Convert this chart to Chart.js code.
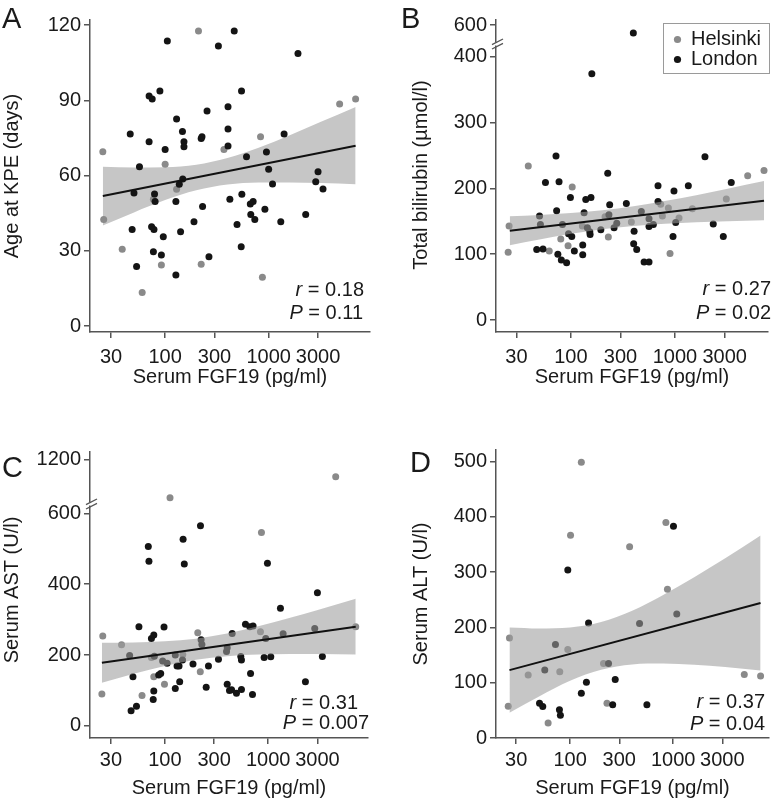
<!DOCTYPE html>
<html>
<head>
<meta charset="utf-8">
<script src="https://cdn.jsdelivr.net/npm/chart.js@4.4.1/dist/chart.umd.min.js"></script>
<style>
  html, body { margin: 0; padding: 0; background: #fff; }
  #wrap { position: relative; width: 777px; height: 800px; }
  canvas { position: absolute; }
</style>
</head>
<body>
<div id="wrap">
  <canvas id="panelA" width="388" height="400" style="left:0;top:0"></canvas>
  <canvas id="panelB" width="389" height="400" style="left:388px;top:0"></canvas>
  <canvas id="panelC" width="388" height="400" style="left:0;top:400px"></canvas>
  <canvas id="panelD" width="389" height="400" style="left:388px;top:400px"></canvas>
</div>
<script>
// ---- shared ----
const xTicks = [30, 100, 300, 1000, 3000];
const xTitle = 'Serum FGF19 (pg/ml)';
const legendLabels = ['Helsinki', 'London'];

// ---- A: age at KPE ----
const aHelX = [25, 25.5, 38.5, 60, 77, 92, 100, 129, 210, 223, 370, 835, 870, 4850, 6920];
const aHelY = [69.5, 42.5, 30.6, 13.4, 50.5, 24.3, 64.5, 54.5, 117.6, 24.6, 70.4, 75.5, 19.4, 88.5, 90.5];
const aLonX = [46, 50, 48, 53, 56.5, 70, 75, 70, 74, 78, 79, 80, 77, 89, 92, 96, 100, 105, 129, 127,
  127, 137, 141, 147, 152, 152, 148, 190, 223, 227, 230, 254, 265, 327, 405, 405, 405, 422, 465, 495,
  547, 551, 543, 611, 665, 708, 672, 735, 920, 952, 1000, 1090, 1310, 1410, 1920, 2280, 2850, 3000, 3350];
const aLonY = [76.5, 53, 38.5, 23.7, 63.5, 91.7, 90.5, 73.5, 39.6, 38.5, 52.6, 49.6, 29.6, 93.7, 28.3, 35.6, 70.4, 113.6, 82.5, 49.6,
  20.3, 56.5, 37.6, 77.5, 73.5, 71.5, 58.6, 41.6, 74.8, 75.5, 47.6, 85.7, 27.6, 111.6, 71.8, 87.4, 78.5, 50.5, 117.6, 40.5,
  93.7, 52.5, 31.6, 67.5, 48.6, 49.6, 44.5, 42.5, 46.5, 69.4, 62.5, 56.6, 41.6, 76.5, 108.6, 44.5, 57.5, 61.5, 54.6];
const aFitX = [25, 6920];
const aFitY = [51.8, 71.9];
const aBandX = [25, 50, 100, 200, 400, 800, 1600, 3200, 6920];
const aBandHi = [63.5, 63.2, 63.3, 64.3, 67.0, 71.1, 76.1, 81.4, 87.3];
const aBandLo = [40.1, 45.3, 50.2, 54.1, 56.4, 57.2, 57.2, 57.0, 56.5];
const aYTicks = [0, 30, 60, 90, 120];
const aStats = [['r', ' = 0.18'], ['P', ' = 0.11']];

// ---- B: total bilirubin ----
const bHelX = [25.5, 25, 39, 62, 80, 94, 103, 129, 213, 229, 381, 729, 757, 864, 896, 1093, 1468, 3110, 4990, 7160];
const bHelY = [143, 103, 234, 105, 123, 113, 202, 143, 157, 126, 149, 176, 158, 170, 101, 155, 169, 184, 219, 227];
const bLonX = [47, 54, 50, 51, 57, 72, 73, 77, 83, 75, 81, 91, 99, 95, 102, 108, 130, 130, 134, 139,
  156, 159, 144, 152, 153, 194, 226, 236, 232, 260, 276, 341, 405, 401, 429, 398, 505, 563, 475, 563,
  563, 620, 687, 687, 978, 957, 1016, 1343, 1940, 2330, 2910, 3470];
const bLonY = [107, 108, 158, 145, 209, 249, 166, 210, 145, 100, 91, 87, 186, 131, 127, 105, 99, 114, 163, 183,
  186, 374, 140, 134, 130, 137, 223, 175, 160, 140, 147, 177, 135, 116, 107, 588, 88, 88, 165, 154,
  142, 145, 204, 180, 196, 127, 148, 204, 248, 146, 127, 209];
const bFitX = [25.9, 7160];
const bFitY = [135.7, 181.3];
const bBandX = [25.9, 50, 100, 200, 400, 800, 1600, 3200, 7160];
const bBandHi = [157.7, 159.5, 162.4, 166.7, 172.9, 180.8, 189.7, 199.5, 211.1];
const bBandLo = [113.7, 122.5, 130.9, 137.8, 142.9, 146.3, 148.5, 150.1, 151.4];
const bYTicks = [0, 100, 200, 300, 400];
const bYTicksTop = [600];
const bStats = [['r', ' = 0.27'], ['P', ' = 0.02']];

// ---- C: serum AST ----
const cHelX = [25, 24.5, 38, 60, 78, 74, 99, 112, 149, 208, 220, 842, 861, 4510, 7050];
const cHelY = [254, 90, 229, 86, 139, 193, 118, 770, 202, 263, 153, 266, 546, 1005, 280];
const cLonX = [45.5, 49, 47, 53, 56, 69, 70, 74, 78, 79, 78, 77, 87, 91, 98, 95, 105, 126, 126, 131,
  137, 139, 148, 150, 154, 187, 221, 224, 228, 251, 264, 330, 395, 401, 401, 422, 442, 448, 493, 543,
  551, 551, 603, 664, 675, 705, 714, 914, 948, 984, 1060, 1315, 1396, 2296, 2826, 3000, 3350];
const cLonY = [199, 139, 43, 56, 280, 506, 465, 247, 257, 197, 99, 75, 144, 148, 279, 183, 177, 200, 106, 169,
  169, 125, 186, 527, 457, 175, 565, 243, 230, 109, 169, 188, 210, 221, 118, 100, 102, 261, 92, 196,
  186, 103, 287, 280, 148, 89, 282, 193, 247, 459, 195, 332, 260, 125, 275, 376, 196];
const cFitX = [24.5, 7050];
const cFitY = [178.7, 280];
const cBandX = [24.5, 50, 100, 200, 400, 800, 1600, 3200, 7050];
const cBandHi = [235.1, 235.7, 238.7, 246.4, 260.9, 281.1, 304.5, 329.4, 358.8];
const cBandLo = [122.3, 147.3, 169.3, 186.6, 196.9, 201.5, 203, 202.9, 201.7];
const cYTicks = [0, 200, 400, 600];
const cYTicksTop = [1200];
const cStats = [['r', ' = 0.31'], ['P', ' = 0.007']];

// ---- D: serum ALT ----
const dHelX = [25.1, 25.8, 39.2, 61.2, 79.4, 95, 101, 128.5, 211, 228, 378, 850, 880, 4900, 7050];
const dHelY = [57.5, 181, 114, 27, 120, 160, 367, 499, 135, 63, 346, 390, 269, 115, 112];
const dLonX = [50.5, 54.3, 56.8, 72.1, 78.8, 80.5, 95, 128.5, 144, 151, 236, 259, 274, 472, 556, 1007, 1084];
const dLonY = [63, 57, 123, 169, 51, 41, 304, 81, 101, 208, 135, 60, 106, 207, 60, 383, 224.5];
const dFitX = [25.8, 7050];
const dFitY = [122.8, 244.3];
const dBandX = [25.8, 50, 100, 200, 400, 800, 1600, 3200, 7050];
const dBandHi = [200, 198.2, 200, 209.8, 230.2, 258.9, 291.1, 325.3, 366.5];
const dBandLo = [45.5, 75.1, 103.6, 123.6, 133.2, 134.7, 132.5, 128.3, 122.2];
const dYTicks = [0, 100, 200, 300, 400, 500];
const dStats = [['r', ' = 0.37'], ['P', ' = 0.04']];

// ---- styling ----
const FONT = '"Liberation Sans", Arial, Helvetica, sans-serif';
const TEXT = '#1a1a1a';
const AXIS = '#555';
const GRAY_PT = '#8a8a8a';
const BLACK_PT = '#141414';
const BAND = 'rgba(156,156,156,0.58)';

Chart.defaults.font.family = FONT;
Chart.defaults.font.size = 20;
Chart.defaults.color = TEXT;

function xy(xs, ys) {
  return xs.map((x, i) => ({ x: x, y: ys[i] }));
}

const axisGrid = { drawOnChartArea: false, drawTicks: true, tickLength: 6, color: AXIS, lineWidth: 1.5 };
const axisBorder = { display: true, color: AXIS, width: 1.5 };

function xScale(c) {
  return {
    type: 'logarithmic', position: 'bottom', min: c.min, max: c.max,
    afterBuildTicks: s => { s.ticks = xTicks.map(v => ({ value: v })); },
    afterFit: s => { s.height = c.height; },
    ticks: { callback: v => String(v), padding: c.tickPad, autoSkip: false, maxRotation: 0, color: TEXT },
    grid: axisGrid,
    border: axisBorder,
    title: { display: true, text: xTitle, color: TEXT, padding: { top: 0, bottom: c.titlePad } }
  };
}

function yScale(c) {
  return {
    type: 'linear', position: 'left', min: c.min, max: c.max,
    stack: c.stack, stackWeight: c.stackWeight, weight: c.weight || 0,
    afterBuildTicks: s => { s.ticks = c.ticks.map(v => ({ value: v })); },
    afterFit: s => { s.width = c.width; },
    ticks: { callback: v => String(v), padding: 3, color: TEXT },
    grid: axisGrid,
    border: axisBorder,
    title: c.title ? { display: true, text: c.title, color: TEXT, padding: { top: c.titlePad, bottom: 0 } } : { display: false }
  };
}

// letters, r/P text, split-axis marks, legend, titles spanning a split axis
function decorPlugin(d) {
  return {
    id: 'decor',
    afterDraw(chart) {
      const ctx = chart.ctx;
      ctx.save();
      ctx.fillStyle = TEXT;
      ctx.textAlign = 'left';
      ctx.textBaseline = 'alphabetic';
      ctx.font = '29px ' + FONT;
      ctx.fillText(d.letter, d.letterPos[0], d.letterPos[1]);

      ctx.textBaseline = 'middle';
      d.stats.forEach((s, i) => {
        const x = d.statPos[i][0], y = d.statPos[i][1];
        ctx.font = '20px ' + FONT;
        ctx.textAlign = 'right';
        ctx.fillText(s[1], x, y);
        const w = ctx.measureText(s[1]).width;
        ctx.font = 'italic 20px ' + FONT;
        ctx.fillText(s[0], x - w, y);
      });

      if (d.yTitle) {
        ctx.save();
        ctx.translate(d.yTitlePos[0], d.yTitlePos[1]);
        ctx.rotate(-Math.PI / 2);
        ctx.textAlign = 'center';
        ctx.font = '20px ' + FONT;
        ctx.fillText(d.yTitle, 0, 0);
        ctx.restore();
      }

      if (d.splitAxis) {
        const bx = chart.chartArea.left;
        const by = chart.scales.y.top;
        ctx.fillStyle = '#fff';
        ctx.fillRect(bx - 3, by - 1.5, 6, 3);
        ctx.strokeStyle = AXIS;
        ctx.lineWidth = 1.3;
        [-2.2, 2.2].forEach(dy => {
          ctx.beginPath();
          ctx.moveTo(bx - 4, by + dy + 2.8);
          ctx.lineTo(bx + 7, by + dy - 2.8);
          ctx.stroke();
        });
      }

      if (d.legend) {
        ctx.strokeStyle = '#9a9a9a';
        ctx.lineWidth = 1;
        ctx.strokeRect(275.5, 23.5, 106, 50);
        const cols = [GRAY_PT, BLACK_PT];
        legendLabels.forEach((lab, i) => {
          const y = 39.5 + i * 20;
          ctx.fillStyle = cols[i];
          ctx.beginPath();
          ctx.arc(289.5, y, 3.6, 0, Math.PI * 2);
          ctx.fill();
          ctx.fillStyle = TEXT;
          ctx.textAlign = 'left';
          ctx.font = '20px ' + FONT;
          ctx.fillText(lab, 303, y);
        });
      }
      ctx.restore();
    }
  };
}

function pointSet(label, pts, color, order, yAxisID) {
  return {
    type: 'scatter', label: label, data: pts, yAxisID: yAxisID, order: order,
    backgroundColor: color, borderColor: color, borderWidth: 0,
    pointRadius: 3.5, pointHoverRadius: 3.5
  };
}

function makePanel(id, p) {
  // lower order is drawn later (on top); in A the dots sit above the band, elsewhere the band covers them
  const ord = p.pointsOnTop ? { line: -3, lon: -2, hel: -1 } : { line: 0, lon: 2, hel: 3 };
  const datasets = [
    { type: 'line', data: xy(p.fitX, p.fitY), borderColor: '#111', borderWidth: 2,
      pointRadius: 0, fill: false, order: ord.line, yAxisID: 'y' },
    { type: 'line', data: xy(p.bandX, p.bandHi), borderColor: 'rgba(0,0,0,0)', borderWidth: 0,
      pointRadius: 0, fill: false, tension: 0.4, cubicInterpolationMode: 'monotone', order: 1, yAxisID: 'y' },
    { type: 'line', data: xy(p.bandX, p.bandLo), borderColor: 'rgba(0,0,0,0)', borderWidth: 0,
      pointRadius: 0, fill: '-1', backgroundColor: p.pointsOnTop ? '#c6c6c6' : BAND,
      tension: 0.4, cubicInterpolationMode: 'monotone', order: 1, yAxisID: 'y' }
  ];
  const cut = p.cut || Infinity;
  [[legendLabels[1], p.lonX, p.lonY, BLACK_PT, ord.lon], [legendLabels[0], p.helX, p.helY, GRAY_PT, ord.hel]].forEach(g => {
    const all = xy(g[1], g[2]);
    datasets.push(pointSet(g[0], all.filter(pt => pt.y < cut), g[3], g[4], 'y'));
    if (p.cut) datasets.push(pointSet(g[0], all.filter(pt => pt.y >= cut), g[3], g[4], 'yTop'));
  });

  const scales = { x: xScale(p.x) };
  if (p.yTop) scales.yTop = yScale(p.yTop);
  scales.y = yScale(p.y);

  new Chart(document.getElementById(id), {
    type: 'scatter',
    data: { datasets: datasets },
    options: {
      responsive: false,
      animation: false,
      events: [],
      layout: { padding: p.padding },
      scales: scales,
      plugins: { legend: { display: false }, tooltip: { enabled: false } }
    },
    plugins: [decorPlugin(p.decor)]
  });
}

makePanel('panelA', {
  helX: aHelX, helY: aHelY, lonX: aLonX, lonY: aLonY, pointsOnTop: true,
  fitX: aFitX, fitY: aFitY, bandX: aBandX, bandHi: aBandHi, bandLo: aBandLo,
  padding: { left: 0, top: 20, right: 18, bottom: 0 },
  x: { min: 18.8, max: 9530, height: 68, tickPad: 7, titlePad: 11 },
  y: { min: -2.39, max: 122, ticks: aYTicks, width: 90, title: 'Age at KPE (days)', titlePad: 0 },
  decor: { letter: 'A', letterPos: [2, 28], stats: aStats, statPos: [[364, 290], [363, 313]] }
});

makePanel('panelB', {
  helX: bHelX, helY: bHelY, lonX: bLonX, lonY: bLonY, cut: 450,
  fitX: bFitX, fitY: bFitY, bandX: bBandX, bandHi: bBandHi, bandLo: bBandLo,
  padding: { left: 0, top: 20, right: 9, bottom: 0 },
  x: { min: 19.1, max: 7820, height: 68, tickPad: 7, titlePad: 11 },
  yTop: { min: 571.1, max: 607.6, ticks: bYTicksTop, width: 108, stack: 'left', stackWeight: 24, weight: 2 },
  y: { min: -18.2, max: 419.3, ticks: bYTicks, width: 108, stack: 'left', stackWeight: 288, weight: 1 },
  decor: { letter: 'B', letterPos: [13, 28], stats: bStats, statPos: [[383, 289], [383, 313]],
    yTitle: 'Total bilirubin (µmol/l)', yTitlePos: [33, 175], splitAxis: true, legend: true }
});

makePanel('panelC', {
  helX: cHelX, helY: cHelY, lonX: cLonX, lonY: cLonY, cut: 700,
  fitX: cFitX, fitY: cFitY, bandX: cBandX, bandHi: cBandHi, bandLo: cBandLo,
  padding: { left: 0, top: 52, right: 20, bottom: 0 },
  x: { min: 18.8, max: 9270, height: 62, tickPad: 4, titlePad: 0 },
  yTop: { min: 700, max: 1282, ticks: cYTicksTop, width: 90, stack: 'left', stackWeight: 52, weight: 2 },
  y: { min: -33.9, max: 626.2, ticks: cYTicks, width: 90, stack: 'left', stackWeight: 234, weight: 1 },
  decor: { letter: 'C', letterPos: [2, 77], stats: cStats, statPos: [[358, 303], [369, 323]],
    yTitle: 'Serum AST (U/l)', yTitlePos: [12, 190], splitAxis: true }
});

makePanel('panelD', {
  helX: dHelX, helY: dHelY, lonX: dLonX, lonY: dLonY,
  fitX: dFitX, fitY: dFitY, bandX: dBandX, bandHi: dBandHi, bandLo: dBandLo,
  padding: { left: 0, top: 50, right: 8, bottom: 0 },
  x: { min: 19.1, max: 8510, height: 62, tickPad: 4, titlePad: 0 },
  y: { min: 0, max: 521.2, ticks: dYTicks, width: 108, title: 'Serum ALT (U/l)', titlePad: 21 },
  decor: { letter: 'D', letterPos: [22, 72], stats: dStats, statPos: [[377, 302], [377, 324]] }
});
</script>
</body>
</html>
